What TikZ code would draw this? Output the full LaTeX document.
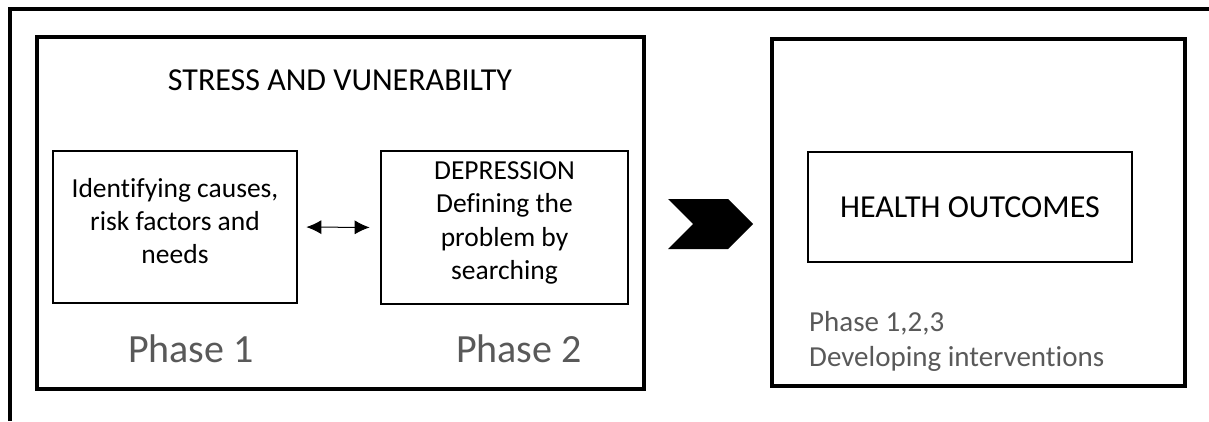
\documentclass[tikz,border=0pt]{standalone}
\usepackage{fontspec}
\setmainfont[RawFeature=-liga]{Carlito}
\usetikzlibrary{arrows.meta}
\definecolor{phasegray}{HTML}{595959}
\begin{document}
\begin{tikzpicture}[x=1pt,y=-1pt,
  bigbox/.style={draw,line width=3.2pt,minimum width=#1,inner sep=0pt},
  innerbox/.style={draw,line width=2.6pt,inner sep=0pt},
  boxtext/.style={font=\fontsize{27.5}{33}\selectfont,align=center},
  titletext/.style={font=\fontsize{32}{38}\selectfont},
  phasetext/.style={font=\fontsize{40}{46}\selectfont,text=phasegray},
  notetext/.style={font=\fontsize{29}{34.5}\selectfont,text=phasegray},
  dblarrow/.style={line width=1pt,{Latex[length=15pt,width=14pt]}-{Latex[length=15pt,width=14pt]}}]
  \useasboundingbox (0,0) rectangle (1209,421);

  % partial outer frame: top and left edges
  \draw[line width=3.2pt] (10,421) -- (10,9) -- (1209,9);

  % left panel
  \node[bigbox=607pt,minimum height=352pt] (left) at (340.5,213) {};
  \node[titletext] (title) at (340,80) {STRESS AND VUNERABILTY};
  \node[innerbox,minimum width=244pt,minimum height=152pt] (causes) at (175,227) {};
  \node[boxtext] (causestext) at (175,221) {Identifying causes,\\risk factors and\\needs};
  \node[innerbox,minimum width=247pt,minimum height=153pt] (depr) at (504.5,227.5) {};
  \node[boxtext,font=\fontsize{27.5}{33.5}\selectfont] (deprtext) at (504.5,223) {DEPRESSION\\Defining the\\problem by\\searching};
  \node[phasetext] (ph1) at (191,349) {Phase 1};
  \node[phasetext] (ph2) at (519,349) {Phase 2};
  \draw[dblarrow,shorten <=8pt,shorten >=10pt] (causes.east) -- (depr.west);

  % chevron between the panels
  \fill (668,199) -- (728,199) -- (753,224) -- (728,249) -- (668,249) -- (693,224) -- cycle;

  % right panel
  \node[bigbox=413pt,minimum height=347pt] (right) at (978.5,212.5) {};
  \node[innerbox,minimum width=324pt,minimum height=110pt] (health) at (970,207) {};
  \node[titletext] (healthtext) at (970,207) {HEALTH OUTCOMES};
  \node[notetext,anchor=base west,inner sep=0pt] (note1) at (809,331) {Phase 1,2,3};
  \node[notetext,anchor=base west,inner sep=0pt] (note2) at (809,366) {Developing interventions};
\end{tikzpicture}
\end{document}
